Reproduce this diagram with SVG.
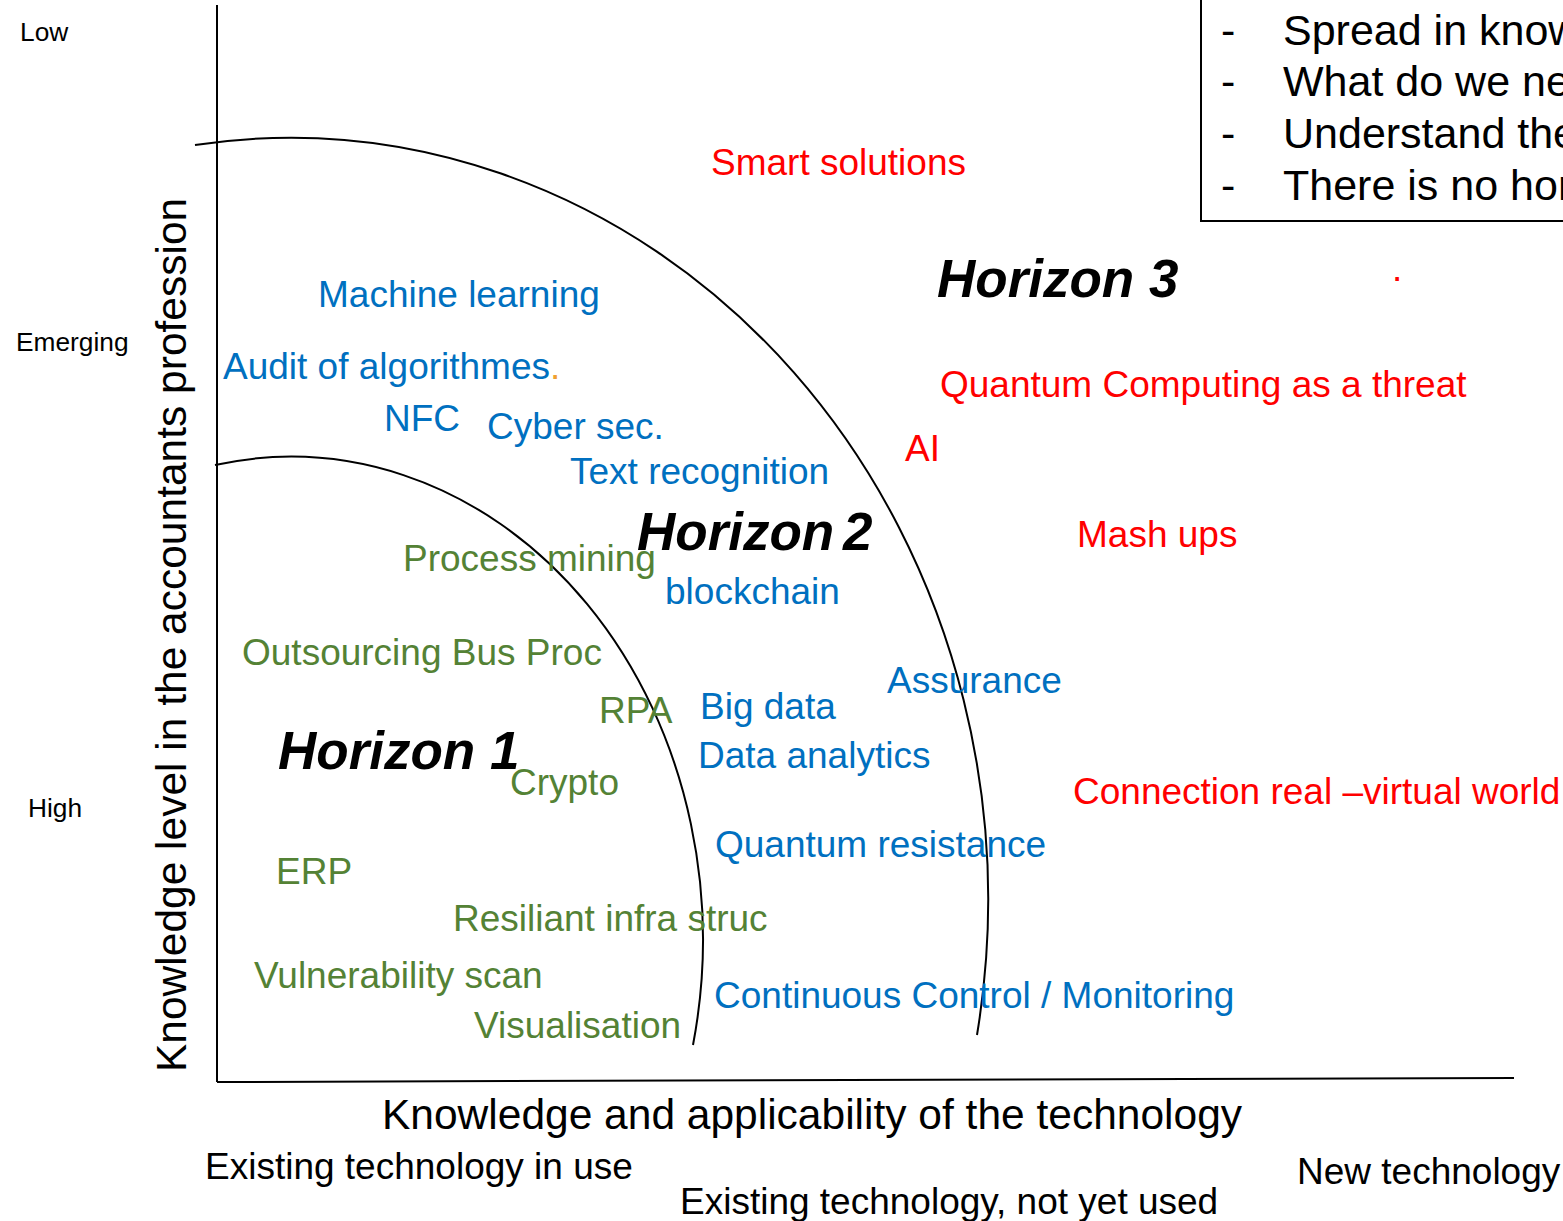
<svg xmlns="http://www.w3.org/2000/svg" width="1563" height="1221" viewBox="0 0 1563 1221">
<style>
text{font-family:"Liberation Sans",Arial,sans-serif;}
.b{fill:#0070C0;font-size:37px;}
.g{fill:#548235;font-size:37px;}
.r{fill:#FF0000;font-size:37px;}
.h{fill:#000;font-size:53px;font-weight:bold;font-style:italic;}
.k{fill:#000;font-size:37px;}
.s{fill:#000;font-size:26.3px;}
.bx{fill:#000;font-size:43px;}
.ln{fill:none;stroke:#000;stroke-width:2;}
</style>
<rect width="1563" height="1221" fill="#fff"/>
<g id="axes">
<line class="ln" x1="217" y1="5" x2="217" y2="1082"/>
<line class="ln" x1="217" y1="1082" x2="1514" y2="1078"/>
</g>
<g id="connectors">
<path id="arc-outer" class="ln" d="M195,145 A698,762 0 0 1 977,1035"/>
<path id="arc-inner" class="ln" d="M215,465 A412,483 0 0 1 693,1045"/>
</g>
<g id="axis-labels">
<text class="s" x="20" y="41">Low</text>
<text class="s" x="16" y="351">Emerging</text>
<text class="s" x="28" y="817">High</text>
<text class="k" style="font-size:42.5px" transform="translate(186,1072) rotate(-90)">Knowledge level in the accountants profession</text>
<text class="k" style="font-size:42.5px" x="382" y="1129">Knowledge and applicability of the technology</text>
<text class="k" x="205" y="1179">Existing technology in use</text>
<text class="k" x="680" y="1214">Existing technology, not yet used</text>
<text class="k" x="1297" y="1184">New technology</text>
</g>
<g id="note-box">
<path class="ln" d="M1201,0 V221 H1563"/>
<text class="bx" x="1221" y="45">-</text>
<text class="bx" x="1283" y="45">Spread in know</text>
<text class="bx" x="1221" y="96">-</text>
<text class="bx" x="1283" y="96">What do we ne</text>
<text class="bx" x="1221" y="148">-</text>
<text class="bx" x="1283" y="148">Understand the</text>
<text class="bx" x="1221" y="200">-</text>
<text class="bx" x="1283" y="200">There is no hor</text>
</g>
<g id="horizon1">
<text class="h" x="278" y="769">Horizon 1</text>
<text class="g" x="403" y="571">Process mining</text>
<text class="g" x="242" y="665">Outsourcing Bus Proc</text>
<text class="g" x="599" y="723">RPA</text>
<text class="g" x="510" y="795">Crypto</text>
<text class="g" x="276" y="884">ERP</text>
<text class="g" x="453" y="931">Resiliant infra struc</text>
<text class="g" x="254" y="988">Vulnerability scan</text>
<text class="g" x="474" y="1038">Visualisation</text>
</g>
<g id="horizon2">
<text class="h" x="637" y="550" style="word-spacing:-6px">Horizon 2</text>
<text class="b" x="318" y="307">Machine learning</text>
<text class="b" x="223" y="379">Audit of algorithmes<tspan fill="#F0A030">.</tspan></text>
<text class="b" x="384" y="431">NFC</text>
<text class="b" x="487" y="439">Cyber sec.</text>
<text class="b" x="570" y="484">Text recognition</text>
<text class="b" x="665" y="604">blockchain</text>
<text class="b" x="887" y="693">Assurance</text>
<text class="b" x="700" y="719">Big data</text>
<text class="b" x="698" y="768">Data analytics</text>
<text class="b" x="715" y="857">Quantum resistance</text>
<text class="b" x="714" y="1008">Continuous Control / Monitoring</text>
</g>
<g id="horizon3">
<text class="h" x="937" y="297">Horizon 3</text>
<text class="r" x="711" y="175">Smart solutions</text>
<text class="r" x="1392" y="281">.</text>
<text class="r" x="940" y="397">Quantum Computing as a threat</text>
<text class="r" x="905" y="461">AI</text>
<text class="r" x="1077" y="547">Mash ups</text>
<text class="r" x="1073" y="804">Connection real –virtual world</text>
</g>
</svg>
